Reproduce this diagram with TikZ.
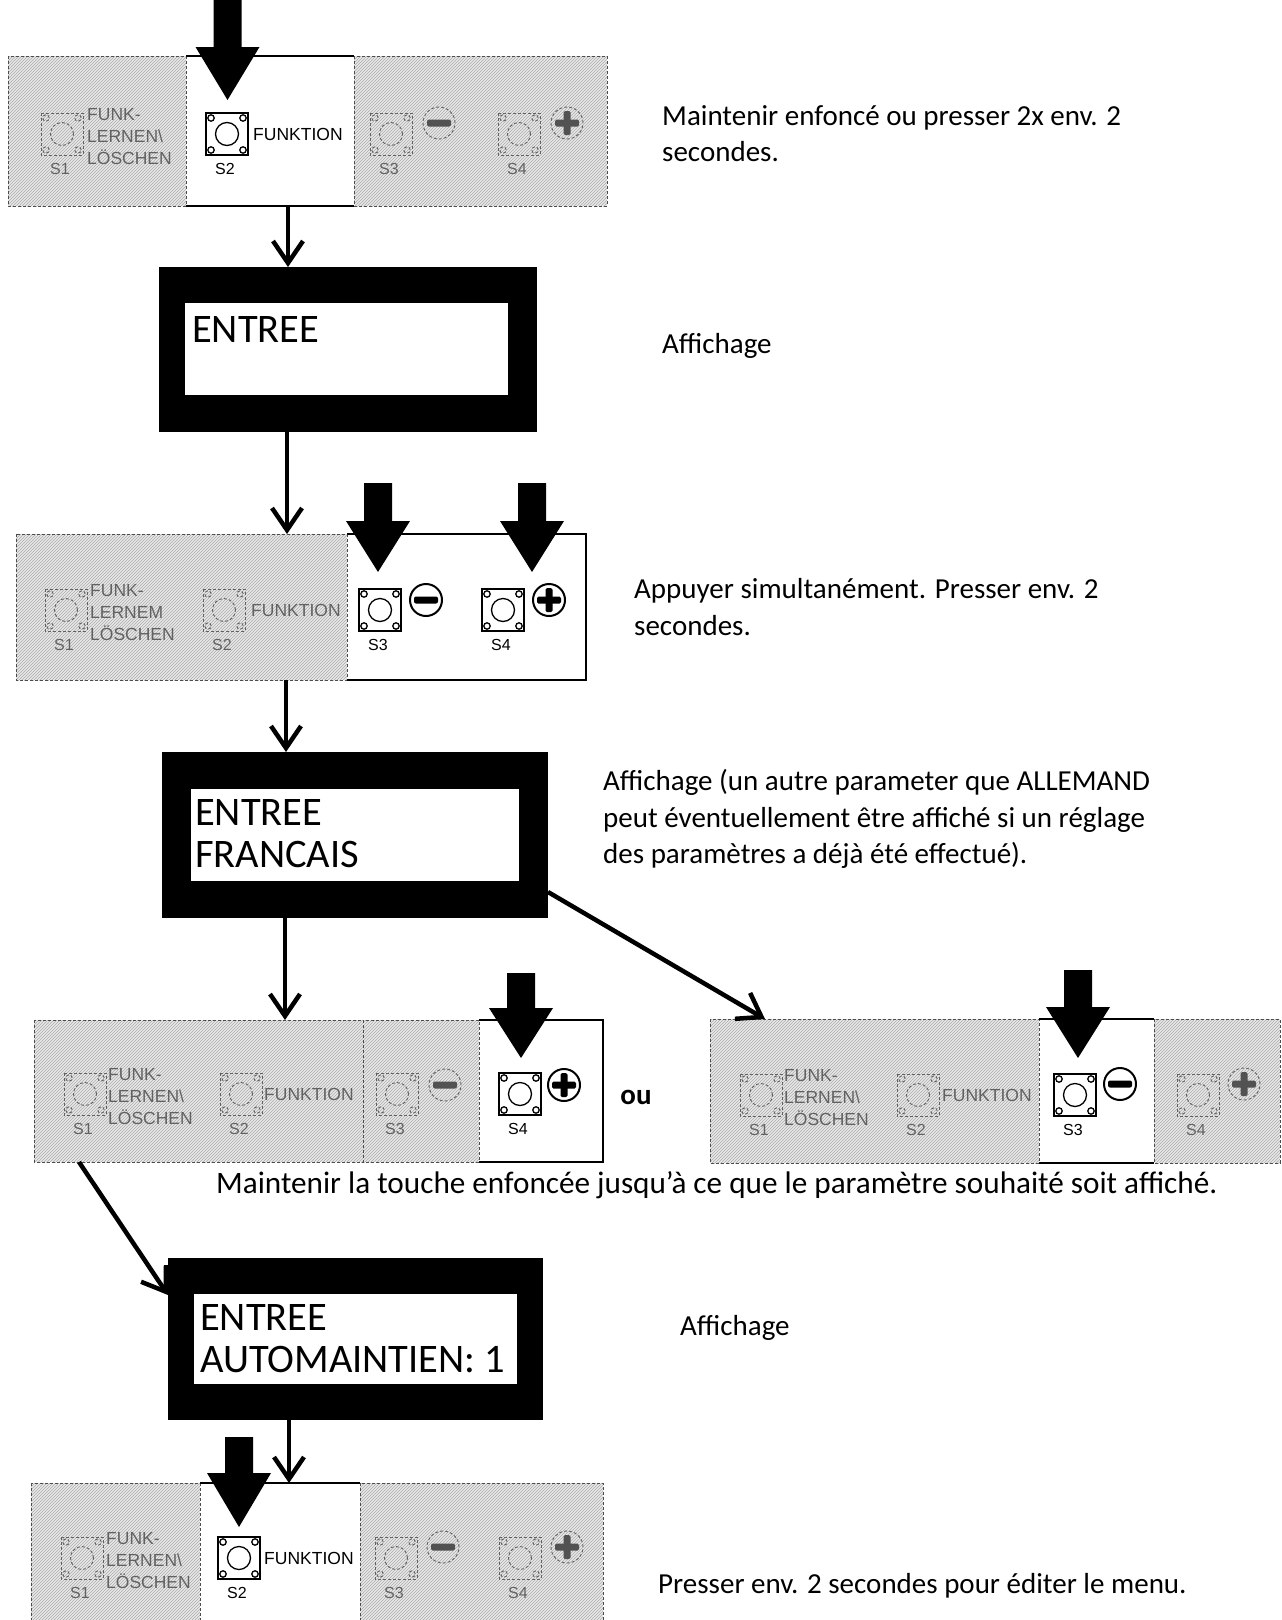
\documentclass[tikz,border=0pt]{standalone}
\usepackage{fontspec}
\setmainfont{Carlito}
\newfontfamily\arialfont{Liberation Sans}
\usetikzlibrary{arrows.meta,patterns}
\tikzset{
  conn/.style={line width=4.5pt,-{Straight Barb[length=22pt,width=30pt]}},
  hatchfill/.style={fill=gray!18,postaction={pattern=north east lines,pattern color=gray!65}},
  hatchedge/.style={draw=black!70,densely dashed,line width=0.9pt},
  solidedge/.style={draw=black,line width=1.4pt},
  btnA/.style={draw=black,line width=1.3pt},
  btnI/.style={draw=black!62,densely dashed,line width=0.9pt},
  txtA/.style={text=black,font=\arialfont\fontsize{17.5}{20}\selectfont,inner sep=0pt},
  txtI/.style={text=black!62,font=\arialfont\fontsize{17.5}{20}\selectfont,inner sep=0pt},
  lblA/.style={text=black,font=\arialfont\fontsize{16}{18}\selectfont,inner sep=0pt},
  lblI/.style={text=black!62,font=\arialfont\fontsize{16}{18}\selectfont,inner sep=0pt},
  ringA/.style={draw=black,line width=2pt},
  ringI/.style={draw=black!62,densely dashed,line width=0.9pt},
  barA/.style={fill=black},
  barI/.style={fill=black!68},
  lcdframe/.style={fill=black,inner sep=0pt,outer sep=0pt,rectangle},
  lcdglass/.style={fill=white,inner sep=0pt,outer sep=0pt,rectangle},
  lcdtext/.style={font=\fontsize{40.5}{44}\selectfont,inner sep=0pt,anchor=base west},
  note/.style={font=\fontsize{29}{36}\selectfont,inner sep=0pt,anchor=base west},
  panel/.style={inner sep=0pt,outer sep=0pt,draw=none,rectangle},
  blockarrow/.style={fill=black},
}
% button: x, y, A/I, label, name
\newcommand\kbtn[5]{%
  \begin{scope}[shift={(#1,#2)}]
    \draw[btn#3] (-21,-21) rectangle (21,21);
    \draw[btn#3] (0,0) circle (11.5pt);
    \foreach \ii/\jj in {-16/-16,16/-16,-16/16,16/16}{\draw[btn#3] (\ii,\jj) circle (3.2pt);}
    \node[lbl#3,anchor=base] (#5) at (-2,40) {#4};
  \end{scope}}
% FUNK- text: x, y, A/I, second line, name
\newcommand\funkl[5]{%
  \node[txt#3,anchor=base west] (#5a) at (#1,{#2-14}) {FUNK-};
  \node[txt#3,anchor=base west] (#5b) at (#1,{#2+8}) {#4};
  \node[txt#3,anchor=base west] (#5c) at (#1,{#2+30}) {LÖSCHEN};}
\newcommand\fktxt[4]{\node[txt#3,anchor=base west] (#4) at (#1,{#2+6}) {FUNKTION};}
\newcommand\minusic[3]{%
  \begin{scope}[shift={(#1,#2)}]
    \draw[ring#3] (0,0) circle (16pt);
    \fill[bar#3,rounded corners=2pt] (-12,-3.5) rectangle (12,3.5);
  \end{scope}}
\newcommand\plusic[3]{%
  \begin{scope}[shift={(#1,#2)}]
    \draw[ring#3] (0,0) circle (16pt);
    \fill[bar#3,rounded corners=1.5pt] (-12,-3.5) rectangle (12,3.5);
    \fill[bar#3,rounded corners=1.5pt] (-3.5,-12) rectangle (3.5,12);
  \end{scope}}
\newcommand\blockarr[4]{%
  \fill[blockarrow] ({#1-14},#2) -- ({#1+14},#2) -- ({#1+14},#3) -- ({#1+32},#3) -- (#1,#4) -- ({#1-32},#3) -- ({#1-14},#3) -- cycle;}

\begin{document}
\begin{tikzpicture}[x=1pt,y=-1pt]
\fill[white] (0,0) rectangle (1282,1620);
\useasboundingbox (0,0) rectangle (1282,1620);

% ---------- panel geometry nodes ----------
\node[panel,minimum width=599pt,minimum height=150pt] (p1) at (307.5,131) {};
\node[panel,minimum width=570pt,minimum height=146pt] (p3) at (301,607) {};
\node[panel,minimum width=569pt,minimum height=142pt] (p5a) at (318.5,1091) {};
\node[panel,minimum width=570pt,minimum height=144pt] (p5b) at (995,1091) {};
\node[panel,minimum width=572pt,minimum height=139pt] (p6) at (317,1552.5) {};

% ---------- panel 1 ----------
\path[hatchfill] (8,56) rectangle (186,206);
\path[hatchfill] (354,56) rectangle (607,206);
\draw[hatchedge] (8,56) rectangle (186,206);
\draw[hatchedge] (354,56) rectangle (607,206);
\draw[solidedge] (186,56) -- (354,56);
\draw[solidedge] (186,206) -- (354,206);
\kbtn{62}{134}{I}{S1}{p1s1} \funkl{87}{134}{I}{LERNEN\textbackslash}{p1f}
\kbtn{227}{134}{A}{S2}{p1s2} \fktxt{253}{134}{A}{p1fk}
\kbtn{391}{134}{I}{S3}{p1s3} \minusic{439}{123}{I}
\kbtn{519}{134}{I}{S4}{p1s4} \plusic{567}{123}{I}
\blockarr{227.5}{0}{47}{100}

% ---------- panel 3 ----------
\path[hatchfill] (16,534) rectangle (347,680);
\draw[hatchedge] (16,534) rectangle (347,680);
\draw[solidedge] (347,534) -- (586,534) -- (586,680) -- (347,680);
\kbtn{66}{610}{I}{S1}{p3s1} \funkl{90}{610}{I}{LERNEM}{p3f}
\kbtn{224}{610}{I}{S2}{p3s2} \fktxt{251}{610}{I}{p3fk}
\kbtn{380}{610}{A}{S3}{p3s3} \minusic{426}{600}{A}
\kbtn{503}{610}{A}{S4}{p3s4} \plusic{549}{600}{A}
\blockarr{378}{483}{521}{572}
\blockarr{532}{483}{521}{572}

% ---------- panel 5a ----------
\path[hatchfill] (34,1020) rectangle (479,1162);
\draw[hatchedge] (34,1020) rectangle (363,1162);
\draw[hatchedge] (363,1020) rectangle (479,1162);
\draw[solidedge] (479,1020) -- (603,1020) -- (603,1162) -- (479,1162);
\kbtn{85}{1094}{I}{S1}{q1s1} \funkl{108}{1094}{I}{LERNEN\textbackslash}{q1f}
\kbtn{241}{1094}{I}{S2}{q1s2} \fktxt{264}{1094}{I}{q1fk}
\kbtn{397}{1094}{I}{S3}{q1s3} \minusic{445}{1085}{I}
\kbtn{520}{1094}{A}{S4}{q1s4} \plusic{564}{1085}{A}
\blockarr{521}{973}{1008}{1058}
\node[font=\bfseries\fontsize{29}{34}\selectfont,inner sep=0pt] (ou) at (636,1097) {ou};

% ---------- panel 5b ----------
\path[hatchfill] (710,1019) rectangle (1039,1163);
\path[hatchfill] (1154,1019) rectangle (1280,1163);
\draw[hatchedge] (710,1019) rectangle (1039,1163);
\draw[hatchedge] (1154,1019) rectangle (1280,1163);
\draw[solidedge] (1039,1019) -- (1154,1019);
\draw[solidedge] (1039,1163) -- (1154,1163);
\kbtn{761}{1095}{I}{S1}{q2s1} \funkl{784}{1095}{I}{LERNEN\textbackslash}{q2f}
\kbtn{918}{1095}{I}{S2}{q2s2} \fktxt{942}{1095}{I}{q2fk}
\kbtn{1075}{1095}{A}{S3}{q2s3} \minusic{1120}{1084}{A}
\kbtn{1198}{1095}{I}{S4}{q2s4} \plusic{1244}{1084}{I}
\blockarr{1078}{970}{1007}{1058}

% ---------- panel 6 ----------
\path[hatchfill] (31,1483) rectangle (200,1625);
\path[hatchfill] (360,1483) rectangle (603,1625);
\draw[hatchedge] (31,1483) rectangle (200,1625);
\draw[hatchedge] (360,1483) rectangle (603,1625);
\draw[solidedge] (200,1483) -- (360,1483);
\kbtn{82}{1558}{I}{S1}{p6s1} \funkl{106}{1558}{I}{LERNEN\textbackslash}{p6f}
\kbtn{239}{1558}{A}{S2}{p6s2} \fktxt{264}{1558}{A}{p6fk}
\kbtn{396}{1558}{I}{S3}{p6s3} \minusic{443}{1547}{I}
\kbtn{520}{1558}{I}{S4}{p6s4} \plusic{567}{1547}{I}
\blockarr{239}{1437}{1473}{1527}

% ---------- displays ----------
\node[lcdframe,minimum width=378pt,minimum height=165pt] (b1) at (348,349.5) {};
\node[lcdglass,minimum width=323pt,minimum height=92pt] (b1in) at (346.5,349) {};
\node[lcdtext] (b1t) at (192,342) {ENTREE};

\node[lcdframe,minimum width=386pt,minimum height=166pt] (b2) at (355,835) {};
\node[lcdglass,minimum width=328pt,minimum height=92pt] (b2in) at (355,835) {};
\node[lcdtext] (b2t1) at (195,825) {ENTREE};
\node[lcdtext] (b2t2) at (195,867) {FRANCAIS};

\node[lcdframe,minimum width=375pt,minimum height=162pt] (b3) at (355.5,1339) {};
\node[lcdglass,minimum width=323pt,minimum height=90pt] (b3in) at (355.5,1339) {};
\node[lcdtext] (b3t1) at (200,1330) {ENTREE};
\node[lcdtext] (b3t2) at (200,1372) {AUTOMAINTIEN: 1};

% ---------- connectors ----------
\coordinate (k1) at (288,0);
\coordinate (k2) at (287,0);
\coordinate (k3) at (286,0);
\coordinate (k4) at (285,0);
\coordinate (k5) at (765,0);
\coordinate (k6) at (79,0);
\coordinate (k7) at (289,0);
\draw[conn] (p1.south -| k1) -- (b1.north -| k1);
\draw[conn] (b1.south -| k2) -- (p3.north -| k2);
\draw[conn] (p3.south -| k3) -- (b2.north -| k3);
\draw[conn] (b2.south -| k4) -- (p5a.north -| k4);
\draw[conn] ([yshift=-57pt]b2.east) -- (p5b.north -| k5);
\draw[conn] (p5a.south -| k6) -- ([yshift=44pt]b3.west);
\draw[conn] (b3.south -| k7) -- (p6.north -| k7);

% ---------- notes ----------
\node[note] (n1a) at (662,125) {Maintenir enfoncé ou presser 2x env. 2};
\node[note] (n1b) at (662,161) {secondes.};
\node[note] (n2) at (662,353) {Affichage};
\node[note] (n3a) at (634,598) {Appuyer simultanément. Presser env. 2};
\node[note] (n3b) at (634,635) {secondes.};
\node[note] (n4a) at (603,790) {Affichage (un autre parameter que ALLEMAND};
\node[note] (n4b) at (603,827) {peut éventuellement être affiché si un réglage};
\node[note] (n4c) at (603,863) {des paramètres a déjà été effectué).};
\node[note,font=\fontsize{31.2}{36}\selectfont] (n5) at (216,1193) {Maintenir la touche enfoncée jusqu'à ce que le paramètre souhaité soit affiché.};
\node[note] (n6) at (680,1335) {Affichage};
\node[note] (n7) at (658,1593) {Presser env. 2 secondes pour éditer le menu.};
\end{tikzpicture}
\end{document}
